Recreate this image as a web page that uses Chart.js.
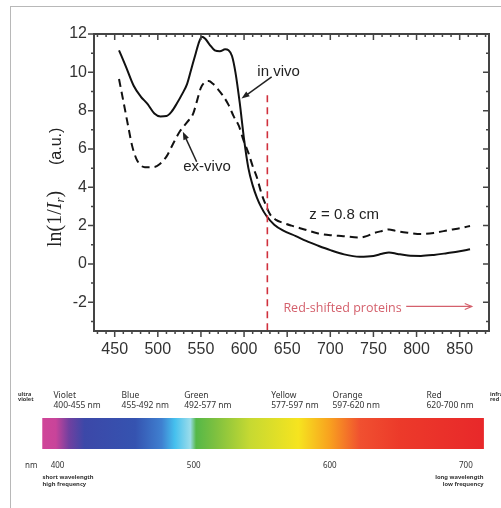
<!DOCTYPE html>
<html>
<head>
<meta charset="utf-8">
<script src="https://cdn.jsdelivr.net/npm/chart.js@4.4.1/dist/chart.umd.min.js"></script>
<style>
  html, body { margin: 0; padding: 0; background: #fff; overflow: hidden; }
  #page { position: relative; width: 501px; height: 508px; overflow: hidden; }
  #frame { position: absolute; left: 10px; top: 6px; width: 700px; height: 700px;
           border-top: 1.5px solid #b8b8b8; border-left: 1.5px solid #b8b8b8; }
  #main { position: absolute; left: 0; top: 0; }
  #spec { position: absolute; left: 0; top: 360px; }
</style>
</head>
<body>
<div id="page">
  <div id="frame"></div>
  <canvas id="main" width="501" height="360"></canvas>
  <canvas id="spec" width="501" height="148"></canvas>
</div>
<script>
// --- donnees ---
const wlInVivo  = [455, 463, 472, 480, 488, 496, 503, 510, 516, 522, 528, 534, 539, 544, 548, 551, 555, 560, 566, 572, 578, 582, 586, 590, 595, 600, 605, 610, 615, 620, 626, 635, 645, 660, 672, 686, 700, 716, 734, 750, 760, 768, 778, 790, 805, 820, 835, 850, 862];
const absInVivo = [11.15, 10.3, 9.3, 8.75, 8.35, 7.85, 7.7, 7.72, 7.95, 8.37, 8.85, 9.4, 10.2, 11.0, 11.6, 11.85, 11.75, 11.45, 11.15, 11.1, 11.2, 11.15, 10.85, 10.0, 8.4, 6.5, 5.0, 4.1, 3.45, 2.95, 2.5, 2.05, 1.75, 1.45, 1.2, 0.95, 0.72, 0.5, 0.38, 0.42, 0.53, 0.6, 0.52, 0.44, 0.42, 0.47, 0.56, 0.66, 0.77];

const wlExVivo  = [455, 460, 466, 470, 475, 480, 485, 495, 502, 510, 518, 526, 534, 541, 546, 550, 555, 559, 564, 570, 576, 582, 588, 594, 599, 605, 610, 615, 620, 625, 630, 637, 645, 655, 670, 685, 700, 715, 734, 742, 750, 760, 768, 776, 790, 805, 820, 838, 852, 862];
const absExVivo = [9.65, 8.5, 7.1, 6.2, 5.5, 5.15, 5.05, 5.05, 5.2, 5.6, 6.3, 6.95, 7.4, 7.85, 8.6, 9.2, 9.5, 9.55, 9.4, 9.1, 8.75, 8.3, 7.7, 7.2, 6.5, 5.8, 5.1, 4.5, 3.7, 3.1, 2.6, 2.3, 2.15, 2.0, 1.8, 1.6, 1.5, 1.45, 1.38, 1.45, 1.6, 1.72, 1.8, 1.72, 1.63, 1.56, 1.62, 1.77, 1.88, 1.98];

const xTickValues = [450, 500, 550, 600, 650, 700, 750, 800, 850];
const yTickValues = [-2, 0, 2, 4, 6, 8, 10, 12];

const redShiftNm = 627;          // limite "red-shifted proteins"
const depthLabel = 'z = 0.8 cm';

// bande du spectre visible
const spectrumSpan = [389, 713];
const bandNames  = ['Violet', 'Blue', 'Green', 'Yellow', 'Orange', 'Red'];
const bandRanges = ['400-455 nm', '455-492 nm', '492-577 nm', '577-597 nm', '597-620 nm', '620-700 nm'];
const nmTicks    = [400, 500, 600, 700];

// --- mise en page ---
const SANS = '"Liberation Sans", Arial, sans-serif';
const SERIF = '"Liberation Serif", "Times New Roman", serif';
const bandAnchors = [397, 447, 493, 557, 602, 671];

function pt(chart, x, y) {
    return [chart.scales.x.getPixelForValue(x), chart.scales.y.getPixelForValue(y)];
}

function arrow(ctx, x1, y1, x2, y2, filled) {
    const a = Math.atan2(y2 - y1, x2 - x1);
    const len = filled ? 8 : 7, w = 3;
    ctx.beginPath();
    ctx.moveTo(x1, y1);
    ctx.lineTo(x2 - (filled ? Math.cos(a) * len * 0.7 : 0), y2 - (filled ? Math.sin(a) * len * 0.7 : 0));
    ctx.stroke();
    const bx = x2 - Math.cos(a) * len, by = y2 - Math.sin(a) * len;
    ctx.beginPath();
    ctx.moveTo(bx - Math.sin(a) * w, by + Math.cos(a) * w);
    ctx.lineTo(x2, y2);
    ctx.lineTo(bx + Math.sin(a) * w, by - Math.cos(a) * w);
    if (filled) { ctx.closePath(); ctx.fill(); } else { ctx.stroke(); }
}

// cadre + graduations (interieures en haut / a droite)
const frameTicks = {
    id: 'frameTicks',
    afterDraw(chart) {
        const { ctx, chartArea: a } = chart;
        const sx = chart.scales.x, sy = chart.scales.y;
        ctx.save();
        ctx.strokeStyle = '#444';
        ctx.lineWidth = 1.5;
        for (let v = 430; v <= 880; v += 10) {
            const px = sx.getPixelForValue(v);
            const l = v % 50 === 0 ? 6 : 3;
            ctx.beginPath();
            ctx.moveTo(px, a.bottom); ctx.lineTo(px, a.bottom + l);
            ctx.moveTo(px, a.top); ctx.lineTo(px, a.top + l);
            ctx.stroke();
        }
        for (let v = -3; v <= 12; v += 1) {
            const py = sy.getPixelForValue(v);
            const l = v % 2 === 0 ? 6 : 3;
            ctx.beginPath();
            ctx.moveTo(a.left - l, py); ctx.lineTo(a.left, py);
            ctx.moveTo(a.right - l, py); ctx.lineTo(a.right, py);
            ctx.stroke();
        }
        ctx.lineWidth = 2;
        ctx.strokeRect(a.left, a.top, a.right - a.left, a.bottom - a.top);

        // titre de l'axe y
        ctx.fillStyle = '#222';
        ctx.translate(61, 0);
        ctx.rotate(-Math.PI / 2);
        ctx.textBaseline = 'alphabetic';
        ctx.textAlign = 'left';
        let x = -247;
        const parts = [
            ['ln(1/', '20px ' + SERIF, 0],
            ['I', 'italic 20px ' + SERIF, 0],
            ['r', 'italic 13px ' + SERIF, 3],
            [')', '20px ' + SERIF, 0]
        ];
        parts.forEach(([t, f, dy]) => {
            ctx.font = f;
            ctx.fillText(t, x, dy);
            x += ctx.measureText(t).width;
        });
        ctx.font = '16px ' + SANS;
        ctx.fillText('(a.u.)', -165, 0);
        ctx.restore();
    }
};

// annotations
const notes = {
    id: 'notes',
    afterDatasetsDraw(chart) {
        const ctx = chart.ctx;
        ctx.save();
        // limite rouge
        const [rx, ry] = pt(chart, redShiftNm, 8.8);
        ctx.strokeStyle = '#d0303c';
        ctx.lineWidth = 1.6;
        ctx.setLineDash([7, 5]);
        ctx.beginPath();
        ctx.moveTo(rx, ry); ctx.lineTo(rx, chart.chartArea.bottom);
        ctx.stroke();
        ctx.setLineDash([]);

        ctx.fillStyle = '#222';
        ctx.font = '15px ' + SANS;
        ctx.textAlign = 'center';
        ctx.textBaseline = 'middle';
        let p = pt(chart, 640, 10.0); ctx.fillText('in vivo', p[0], p[1]);
        p = pt(chart, 557, 5.07); ctx.fillText('ex-vivo', p[0], p[1]);
        p = pt(chart, 716, 2.55); ctx.fillText(depthLabel, p[0], p[1]);

        ctx.strokeStyle = '#222';
        ctx.lineWidth = 1.5;
        let a = pt(chart, 632, 9.76), b = pt(chart, 597, 8.63);
        arrow(ctx, a[0], a[1], b[0], b[1], true);
        a = pt(chart, 545, 5.33); b = pt(chart, 529, 6.9);
        arrow(ctx, a[0], a[1], b[0], b[1], true);

        ctx.fillStyle = '#d4606c';
        ctx.strokeStyle = '#d4606c';
        ctx.font = '12.5px "Open Sans", "Noto Sans", sans-serif';
        ctx.textAlign = 'left';
        p = pt(chart, 645.6, -2.34); ctx.fillText('Red-shifted proteins', p[0], p[1]);
        ctx.lineWidth = 1.2;
        a = pt(chart, 788, -2.22); b = pt(chart, 864, -2.22);
        arrow(ctx, a[0], a[1], b[0], b[1], false);
        ctx.restore();
    }
};

const tickFont = { family: SANS, size: 16 };

new Chart(document.getElementById('main'), {
    type: 'line',
    data: {
        datasets: [
            {
                label: 'in vivo',
                data: wlInVivo.map((w, i) => ({ x: w, y: absInVivo[i] })),
                borderColor: '#111',
                borderWidth: 2,
                pointRadius: 0,
                cubicInterpolationMode: 'monotone'
            },
            {
                label: 'ex-vivo',
                data: wlExVivo.map((w, i) => ({ x: w, y: absExVivo[i] })),
                borderColor: '#111',
                borderWidth: 2,
                borderDash: [8, 5],
                pointRadius: 0,
                cubicInterpolationMode: 'monotone'
            }
        ]
    },
    options: {
        responsive: false,
        animation: false,
        layout: { padding: { left: 0, top: 34, right: 12, bottom: 0 } },
        plugins: { legend: { display: false }, tooltip: { enabled: false } },
        scales: {
            x: {
                type: 'linear', min: 426, max: 884,
                afterBuildTicks: s => { s.ticks = xTickValues.map(v => ({ value: v })); },
                afterFit: s => { s.height = 29; },
                grid: { display: false, drawTicks: false },
                border: { display: false },
                ticks: { padding: 9, color: '#333', font: tickFont, maxRotation: 0, autoSkip: false }
            },
            y: {
                min: -3.5, max: 12,
                afterBuildTicks: s => { s.ticks = yTickValues.map(v => ({ value: v })); },
                afterFit: s => { s.width = 94; },
                grid: { display: false, drawTicks: false },
                border: { display: false },
                ticks: { padding: 7, color: '#333', font: tickFont }
            }
        }
    },
    plugins: [frameTicks, notes]
});

// --- bande spectrale ---
const specStops = [
    [0, '#d04598'], [0.03, '#c8449a'], [0.06, '#7040a0'], [0.095, '#3c48a8'],
    [0.21, '#3553b0'], [0.27, '#3f80d0'], [0.30, '#45c0ee'], [0.335, '#9adcea'],
    [0.348, '#55b848'], [0.39, '#7cc040'], [0.47, '#c6d932'], [0.58, '#f6e41f'],
    [0.65, '#f8a21f'], [0.72, '#f05030'], [0.81, '#ec3a2a'], [1, '#e8282a']
];

const specText = {
    id: 'specText',
    afterDraw(chart) {
        const ctx = chart.ctx, sx = chart.scales.x;
        ctx.save();
        ctx.fillStyle = '#333';
        ctx.textBaseline = 'middle';
        ctx.textAlign = 'left';
        const f = '"Noto Sans", sans-serif';
        bandNames.forEach((n, i) => {
            const x = sx.getPixelForValue(bandAnchors[i]);
            ctx.font = '8.5px ' + f;
            ctx.fillText(n, x, 36);
            ctx.fillText(bandRanges[i], x, 46);
        });
        ctx.font = 'bold 5.5px ' + f;
        ctx.fillText('ultra', 18, 34);
        ctx.fillText('violet', 18, 39);
        ctx.fillText('infra', 490, 34);
        ctx.fillText('red', 490, 39);
        ctx.font = '8px ' + f;
        ctx.fillText('nm', 25, 106);
        ctx.textAlign = 'center';
        nmTicks.forEach(v => ctx.fillText(String(v), sx.getPixelForValue(v), 106));
        const x0 = sx.getPixelForValue(spectrumSpan[0]);
        const x1 = sx.getPixelForValue(spectrumSpan[1]);
        ctx.font = 'bold 5.8px ' + f;
        ctx.textAlign = 'left';
        ctx.fillText('short wavelength', x0, 117);
        ctx.fillText('high frequency', x0, 124);
        ctx.textAlign = 'right';
        ctx.fillText('long wavelength', x1, 117);
        ctx.fillText('low frequency', x1, 124);
        ctx.restore();
    }
};

new Chart(document.getElementById('spec'), {
    type: 'bar',
    data: {
        labels: ['visible'],
        datasets: [{
            data: [spectrumSpan],
            backgroundColor: c => {
                const s = c.chart.scales.x;
                if (!s) return '#888';
                const g0 = s.getPixelForValue(spectrumSpan[0]);
                const g1 = s.getPixelForValue(spectrumSpan[1]);
                if (!isFinite(g0) || !isFinite(g1)) return '#888';
                const g = c.chart.ctx.createLinearGradient(g0, 0, g1, 0);
                specStops.forEach(([o, col]) => g.addColorStop(o, col));
                return g;
            },
            borderWidth: 0,
            barPercentage: 1,
            categoryPercentage: 1
        }]
    },
    options: {
        indexAxis: 'y',
        responsive: false,
        animation: false,
        layout: { padding: { left: 0, right: 0, top: 58, bottom: 59 } },
        plugins: { legend: { display: false }, tooltip: { enabled: false } },
        scales: {
            x: { type: 'linear', min: 357.7, max: 725.8, display: false },
            y: { display: false }
        }
    },
    plugins: [specText]
});
</script>
</body>
</html>
